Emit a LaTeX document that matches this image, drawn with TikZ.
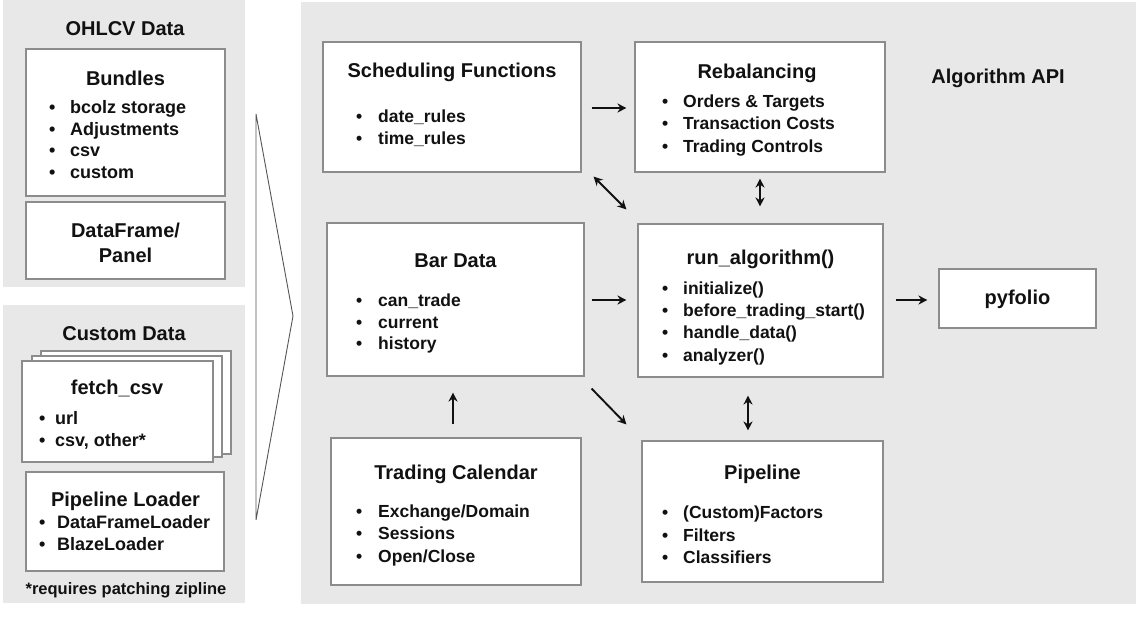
\documentclass[tikz,border=0pt]{standalone}
\usepackage{fontspec}
\setmainfont{Liberation Sans}
\usetikzlibrary{arrows.meta,fit,calc}
\definecolor{panelgray}{HTML}{E8E8E8}
\definecolor{boxline}{HTML}{8C8C8C}
\definecolor{ink}{HTML}{111111}
\definecolor{funnel}{HTML}{555555}
\newcommand\bi[6][itm]{\node[#1] (#2) at (#3,#4) {\makebox[#5pt][l]{•}#6};}
\begin{document}
\begin{tikzpicture}[x=1pt,y=-1pt,
  panel/.style={fill=panelgray, draw=none, inner sep=0pt},
  box/.style={fill=white, draw=boxline, line width=1.1pt, inner sep=0pt},
  ttl/.style={font=\fontsize{20}{24}\selectfont\bfseries, text=ink, inner sep=0pt, anchor=base},
  itm/.style={font=\fontsize{17.5}{21}\selectfont\bfseries, text=ink, inner sep=0pt, anchor=base west},
  itmL/.style={itm, font=\fontsize{18}{21}\selectfont\bfseries},
  note/.style={font=\fontsize{16.5}{20}\selectfont\bfseries, text=ink, inner sep=0pt, anchor=base},
  arr/.style={draw=ink, line width=1.9pt, -{Stealth[length=9pt,width=9pt]}},
  dbl/.style={draw=ink, line width=1.9pt, {Stealth[length=9pt,width=9pt]}-{Stealth[length=9pt,width=9pt]}},
]
\useasboundingbox (0,0) rectangle (1138,616);
\fill[white] (0,0) rectangle (1138,616);

% panels
\node[panel, fit={(3,0) (245,287)}] (ohlcv) {};
\node[panel, fit={(3,305) (245,603)}] (custom) {};
\node[panel, fit={(301,2) (1136,604)}] (api) {};

% funnel
\coordinate (ft) at (256,114);
\coordinate (fa) at (293,316);
\coordinate (fb) at (256,520);
\draw[funnel, line width=0.9pt] (ft) -- (fa) -- (fb) -- cycle;

% left panel: OHLCV
\node[ttl] (ohlcvt) at (125,35) {OHLCV Data};
\node[box, fit={(26,49) (225,196)}] (bundles) {};
\node[ttl] (bundlest) at (125.5,85) {Bundles};
\bi[itmL]{b1}{49}{113}{21}{bcolz storage}
\bi[itmL]{b2}{49}{135}{21}{Adjustments}
\bi[itmL]{b3}{49}{156}{21}{csv}
\bi[itmL]{b4}{49}{178}{21}{custom}
\node[box, fit={(26,202) (225,279)}] (dfp) {};
\node[ttl] (dfp1) at (125.5,237) {DataFrame/};
\node[ttl] (dfp2) at (125.5,262) {Panel};

% left panel: Custom Data
\node[ttl] (customt) at (124,340) {Custom Data};
\node[box, fit={(41,351) (231,454)}] (fc3) {};
\node[box, fit={(32,356) (222,457)}] (fc2) {};
\node[box, fit={(22,361) (213,462)}] (fc1) {};
\node[ttl] (fct) at (117,394) {fetch\_csv};
\bi[itmL]{f1}{39}{424}{16}{url}
\bi[itmL]{f2}{39}{446}{16}{csv, other*}
\node[box, fit={(26,472) (224,571)}] (pll) {};
\node[ttl] (pllt) at (125.5,506) {Pipeline Loader};
\bi[itmL]{p1}{39}{528}{18}{DataFrameLoader}
\bi[itmL]{p2}{39}{550}{18}{BlazeLoader}
\node[note] (foot) at (126,594) {*requires patching zipline};

% Algorithm API
\node[ttl] (apit) at (998,83) {Algorithm API};

\node[box, fit={(323,42) (581,172)}] (sched) {};
\node[ttl] (schedt) at (452,77) {Scheduling Functions};
\bi{s1}{356}{122}{22}{date\_rules}
\bi{s2}{356}{144}{22}{time\_rules}

\node[box, fit={(635,42) (885,172)}] (rebal) {};
\node[ttl] (rebalt) at (757,78) {Rebalancing};
\bi{r1}{662}{107}{21}{Orders \& Targets}
\bi{r2}{662}{129}{21}{Transaction Costs}
\bi{r3}{662}{152}{21}{Trading Controls}

\node[box, fit={(327,223) (584,376)}] (bar) {};
\node[ttl] (bart) at (455.5,267) {Bar Data};
\bi{d1}{356}{306}{22}{can\_trade}
\bi{d2}{356}{328}{22}{current}
\bi{d3}{356}{349}{22}{history}

\node[box, fit={(638,224) (883,377)}] (run) {};
\node[ttl] (runt) at (760.5,264) {run\_algorithm()};
\bi{a1}{662}{294}{21}{initialize()}
\bi{a2}{662}{316}{21}{before\_trading\_start()}
\bi{a3}{662}{338}{21}{handle\_data()}
\bi{a4}{662}{361}{21}{analyzer()}

\node[box, fit={(939,269) (1096,328)}] (pyf) {};
\node[ttl] (pyft) at (1017.5,304) {pyfolio};

\node[box, fit={(331,438) (581,585)}] (tc) {};
\node[ttl] (tct) at (456,479) {Trading Calendar};
\bi{t1}{356}{517}{22}{Exchange/Domain}
\bi{t2}{356}{539}{22}{Sessions}
\bi{t3}{356}{562}{22}{Open/Close}

\node[box, fit={(642,441) (883,582)}] (pipe) {};
\node[ttl] (pipet) at (762.5,479) {Pipeline};
\bi{q1}{662}{518}{21}{(Custom)Factors}
\bi{q2}{662}{541}{21}{Filters}
\bi{q3}{662}{563}{21}{Classifiers}

% connectors
\draw[arr] ($(sched.east)+(10,1)$) -- ($(rebal.west)+(-8,1)$);
\draw[dbl] ($(sched.south east)+(12,4)$) -- ($(run.north west)+(-11,-14)$);
\draw[dbl] ($(rebal.south)+(0,6)$) -- ($(run.north)+(-0.5,-17)$);
\draw[arr] ($(bar.east)+(7,0.5)$) -- ($(bar.east -| run.west)+(-11,0.5)$);
\draw[arr] ($(run.east)+(12,-0.5)$) -- ($(run.east -| pyf.west)+(-11,-0.5)$);
\draw[arr] ($(tc.north)+(-3,-13)$) -- ($(tc.north |- bar.south)+(-3,16)$);
\draw[dbl] ($(run.south)+(-12.5,18)$) -- ($(run.south |- pipe.north)+(-12.5,-10)$);
\draw[arr] ($(bar.south east)+(7,12)$) -- ($(pipe.north west)+(-15,-16)$);
\end{tikzpicture}
\end{document}
